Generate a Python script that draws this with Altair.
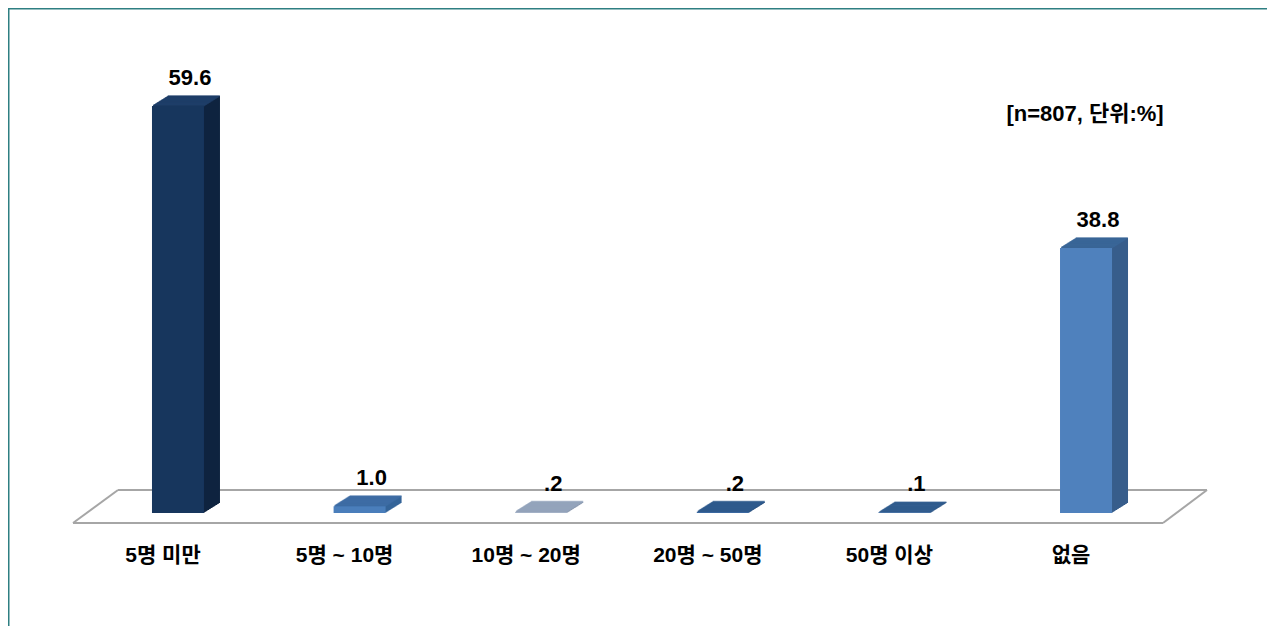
import altair as alt
import pandas as pd

categories = ["5명 미만", "5명 ~ 10명", "10명 ~ 20명", "20명 ~ 50명", "50명 이상", "없음"]
values = [59.6, 1.0, 0.2, 0.2, 0.1, 38.8]
value_labels = ["59.6", "1.0", ".2", ".2", ".1", "38.8"]
note = "[n=807, 단위:%]"

front_colors = ["#17365D", "#4A7EBB", "#A3B1C6", "#3A68A0", "#3A68A0", "#4F81BD"]
top_colors = ["#21426E", "#3F6DA5", "#95A5BD", "#2F5B8E", "#2F5B8E", "#3B6698"]
side_colors = ["#0F2440", "#35659A", "#8896AC", "#284F7D", "#284F7D", "#375E8C"]

df = pd.DataFrame({"cat": categories, "val": values, "lab": value_labels})

FONT_LAT = "Liberation Sans, Noto Sans CJK KR"
W, H = 1248, 505
DEPTH = 16

xenc = alt.X("cat:N", sort=categories, axis=None,
             scale=alt.Scale(paddingInner=0, paddingOuter=0.436))
yenc = alt.Y("val:Q", axis=None, scale=alt.Scale(domain=[0, 73.95], nice=False))


def col(rng):
    return alt.Color("cat:N", scale=alt.Scale(domain=categories, range=rng), legend=None)


one = pd.DataFrame({"a": [0]})
floor_color = "#A6A6A6"


def rule(x1, y1, x2, y2, color=floor_color, w=2):
    return alt.Chart(one).mark_rule(color=color, strokeWidth=w).encode(
        x=alt.value(x1), y=alt.value(y1), x2=alt.value(x2), y2=alt.value(y2))


layers = [
    rule(65, 515, 1155, 515),
    rule(110, 482, 1199, 482),
    rule(65, 515, 110, 482),
    rule(1155, 515, 1199, 482),
]

base = alt.Chart(df)
for k in range(DEPTH, 0, -1):
    dx = k
    dy = -k * 0.625
    layers.append(base.mark_bar(size=52, xOffset=dx, yOffset=dy, x2Offset=dx, y2Offset=dy)
                  .encode(x=xenc, y=yenc, color=col(side_colors)))
    layers.append(base.mark_tick(size=52, thickness=1.6, xOffset=dx, yOffset=dy)
                  .encode(x=xenc, y=yenc, color=col(top_colors)))

layers.append(base.mark_bar(size=52).encode(x=xenc, y=yenc, color=col(front_colors)))

layers.append(base.mark_text(font=FONT_LAT, fontSize=22, fontWeight="bold", color="#000000",
                             dx=12, dy=-28, baseline="middle")
              .encode(x=xenc, y=yenc, text="lab:N"))

layers.append(base.mark_text(font=FONT_LAT, fontSize=21, fontWeight="bold", color="#000000",
                             baseline="middle", dx=-15)
              .encode(x=xenc, y=alt.value(548), text="cat:N"))

layers.append(alt.Chart(pd.DataFrame({"t": [note]})).mark_text(
    font=FONT_LAT, fontSize=22, fontWeight="bold", color="#000000", baseline="middle")
    .encode(x=alt.value(1077), y=alt.value(106), text="t:N"))

layers.append(rule(0, 0.5, 1262, 0.5, color="#2E7F82", w=2))
layers.append(rule(0.5, 0, 0.5, 618, color="#2E7F82", w=2))

chart = alt.layer(*layers).resolve_scale(color="independent").properties(
    width=W, height=H,
    autosize=alt.AutoSizeParams(type="none"),
    padding={"left": 0, "top": 0, "right": 11, "bottom": 113},
    background="#FFFFFF",
).configure_view(stroke=None)

chart.save("out.html", embed_options={"renderer": "svg", "actions": False})
